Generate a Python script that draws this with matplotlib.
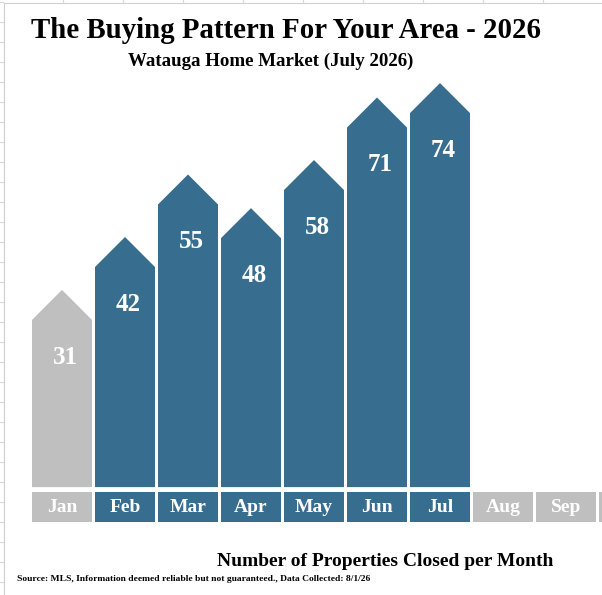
import matplotlib
matplotlib.use("Agg")
import matplotlib.pyplot as plt
from matplotlib.patches import Polygon, Rectangle
from matplotlib.lines import Line2D

# Data
months = ["Jan", "Feb", "Mar", "Apr", "May", "Jun", "Jul", "Aug", "Sep", "Oct", "Nov", "Dec"]
closed = [31, 42, 55, 48, 58, 71, 74]
highlight = [False, True, True, True, True, True, True, False, False, False, False, False]

BLUE = "#376D8F"
GRAY = "#BFBFBF"
FONT = "Liberation Serif"

W, H = 602, 595
fig = plt.figure(figsize=(W / 100, H / 100), dpi=100)
fig.patch.set_facecolor("white")

# spreadsheet gridlines peeking around the chart
for gy in range(2, H, 20):
    fig.add_artist(Line2D([0, 3 / W], [1 - gy / H] * 2, color="#D9D9D9", lw=0.8))
for gx in range(63, W, 60):
    fig.add_artist(Line2D([gx / W] * 2, [1, 1 - 3 / H], color="#D9D9D9", lw=0.8))
fig.add_artist(Line2D([4 / W, 4 / W], [0, 1 - 3 / H], color="#D0D0D0", lw=0.8))
fig.add_artist(Line2D([4 / W, 1], [1 - 3 / H, 1 - 3 / H], color="#D0D0D0", lw=0.8))

ax = fig.add_axes([0, 0, 1, 1])
ax.set_xlim(-62 / 63, 540 / 63)
ax.set_ylim(-32.43, 91.27)
ax.axis("off")

bw = 0.952
base = -10.0
roof = 6.24
for i, v in enumerate(closed):
    c = BLUE if highlight[i] else GRAY
    x0, x1 = i - bw / 2, i + bw / 2
    ax.add_patch(Polygon([(x0, base), (x1, base), (x1, v - roof), (i, v), (x0, v - roof)],
                         closed=True, facecolor=c, edgecolor="none"))
    ax.text(i + 0.048, v - 14.0, str(v), ha="center", va="center", color="white",
            fontsize=18, fontweight="bold", family=FONT)

xmax = ax.get_xlim()[1]
for i, m in enumerate(months):
    c = BLUE if highlight[i] else GRAY
    ax.add_patch(Rectangle((i - bw / 2, -17.2), bw, 6.18, facecolor=c, edgecolor="none"))
    if i + bw / 2 < xmax:
        ax.text(i, -14.2, m, ha="center", va="center", color="white",
                fontsize=14, fontweight="bold", family=FONT)

fig.text(286 / W, 1 - 31 / H, "The Buying Pattern For Your Area - 2026", ha="center", va="center",
         fontsize=20.8, fontweight="bold", family=FONT)
fig.text(271 / W, 1 - 61 / H, "Watauga Home Market (July 2026)", ha="center", va="center",
         fontsize=13.6, fontweight="bold", family=FONT)
fig.text(385 / W, 1 - 562 / H, "Number of Properties Closed per Month", ha="center", va="center",
         fontsize=14, fontweight="bold", family=FONT)
fig.text(17 / W, 1 - 579 / H,
         "Source: MLS, Information deemed reliable but not guaranteed., Data Collected: 8/1/26",
         ha="left", va="center", fontsize=6.8, fontweight="bold", family=FONT)

fig.savefig("out.png", dpi=100)
